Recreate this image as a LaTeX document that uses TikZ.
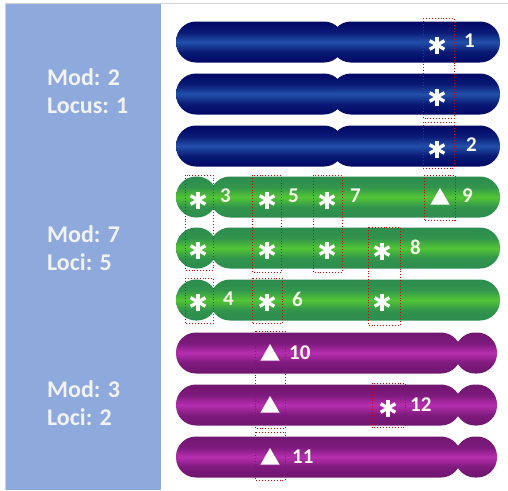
\documentclass[tikz,border=0pt]{standalone}
\usepackage{fontspec}
\setmainfont{Carlito}
\usetikzlibrary{shapes.geometric}
\definecolor{panelblue}{HTML}{8EA9DB}
\definecolor{navyedge}{HTML}{000864}
\definecolor{navymid}{HTML}{2350AA}
\definecolor{greenedge}{HTML}{2C8C50}
\definecolor{greenmid}{HTML}{52C634}
\definecolor{plumedge}{HTML}{701670}
\definecolor{plummid}{HTML}{B62EB0}
\definecolor{labelwhite}{HTML}{F6F6EA}
\pgfdeclareverticalshading{navybar}{100bp}{color(0bp)=(navyedge); color(25bp)=(navyedge); color(38bp)=(navyedge!75!navymid); color(50bp)=(navymid); color(62bp)=(navyedge!75!navymid); color(75bp)=(navyedge); color(100bp)=(navyedge)}
\pgfdeclareverticalshading{greenbar}{100bp}{color(0bp)=(greenedge); color(25bp)=(greenedge); color(38bp)=(greenedge!85!greenmid); color(50bp)=(greenmid); color(62bp)=(greenedge!85!greenmid); color(75bp)=(greenedge); color(100bp)=(greenedge)}
\pgfdeclareverticalshading{plumbar}{100bp}{color(0bp)=(plumedge); color(25bp)=(plumedge); color(38bp)=(plumedge!80!plummid); color(50bp)=(plummid); color(62bp)=(plumedge!80!plummid); color(75bp)=(plumedge); color(100bp)=(plumedge)}

\begin{document}
\begin{tikzpicture}[
    x=1pt, y=-1pt,
    blue arm/.style={shading=navybar,rounded corners=20pt},
    green arm/.style={shading=greenbar,rounded corners=20pt},
    plum arm/.style={shading=plumbar,rounded corners=20pt},
    locus box/.style={draw=red!85!black,dotted,line width=0.9pt},
    ast mark/.style={circle,minimum size=20pt,inner sep=0pt,path picture={
        \foreach \a in {90,30,150}
          \draw[white,line width=3.3pt,shift={(path picture bounding box.center)}] (\a:8.5pt) -- (\a+180:8.5pt);}},
    tri mark/.style={regular polygon,regular polygon sides=3,fill=white,minimum size=22pt,inner sep=0pt},
    locus label/.style={anchor=west,inner sep=0pt,text=labelwhite,font=\bfseries\fontsize{21}{21}\selectfont},
    group text/.style={anchor=base west,inner sep=0pt,text=white!95!black,font=\bfseries\fontsize{24}{24}\selectfont}]

  \useasboundingbox (0,0) rectangle (508,490);

  % side panel
  \fill[panelblue] (6,3.5) rectangle (161,490);
  \draw[gray!35,line width=0.8pt] (5,490) -- (5,3) -- (508,3);

  \node[group text] (mod1) at (47,85) {Mod: 2};
  \node[group text] (loc1) at (47,113) {Locus: 1};
  \node[group text] (mod2) at (47,242) {Mod: 7};
  \node[group text] (loc2) at (47,270) {Loci: 5};
  \node[group text] (mod3) at (47,397) {Mod: 3};
  \node[group text] (loc3) at (47,425) {Loci: 2};

  % chromosomes
  \foreach \y in {42,94,146} {
    \shade[blue arm] (176,\y-20.5) rectangle (344,\y+20.5);
    \shade[blue arm] (331,\y-20.5) rectangle (500,\y+20.5);
  }
  \foreach \y in {197,248,300} {
    \shade[green arm] (176,\y-20.5) rectangle (217,\y+20.5);
    \shade[green arm] (210,\y-20.5) rectangle (500,\y+20.5);
  }
  \foreach \y in {353,405,457} {
    \shade[plum arm] (176,\y-20.5) rectangle (461,\y+20.5);
    \shade[plum arm] (455,\y-20.5) rectangle (497,\y+20.5);
  }

  % loci boxes
  \draw[locus box] (423,18) rectangle (454,118);
  \draw[locus box] (423,122) rectangle (454,168);
  \draw[locus box] (424,175) rectangle (455,220);
  \draw[locus box] (185,175) rectangle (213,270);
  \draw[locus box] (185,278) rectangle (213,323);
  \draw[locus box] (252,175) rectangle (281,272);
  \draw[locus box] (252,278) rectangle (282,323);
  \draw[locus box] (313,175) rectangle (342,272);
  \draw[locus box] (368,227) rectangle (400,325);
  \draw[locus box] (255,331) rectangle (285,428);
  \draw[locus box] (255,432) rectangle (285,480);
  \draw[locus box] (372,383) rectangle (405,427);

  % markers
  \node[ast mark] (b1) at (437,45) {};
  \node[ast mark] (b2) at (437,97) {};
  \node[ast mark] (b3) at (437,149) {};
  \node[ast mark] (g1a) at (198,200) {};
  \node[ast mark] (g1b) at (267,200) {};
  \node[ast mark] (g1c) at (327,200) {};
  \node[tri mark] (g1d) at (440,199) {};
  \node[ast mark] (g2a) at (198,250) {};
  \node[ast mark] (g2b) at (267,250) {};
  \node[ast mark] (g2c) at (327,250) {};
  \node[ast mark] (g2d) at (382,251) {};
  \node[ast mark] (g3a) at (198,302) {};
  \node[ast mark] (g3b) at (267,302) {};
  \node[ast mark] (g3d) at (382,302) {};
  \node[tri mark] (p1) at (270,355) {};
  \node[tri mark] (p2) at (270,407) {};
  \node[ast mark] (p2b) at (388,408) {};
  \node[tri mark] (p3) at (270,459) {};

  % locus numbers
  \node[locus label] (n1) at (464,41) {1};
  \node[locus label] (n2) at (466,145) {2};
  \node[locus label] (n3) at (220,196) {3};
  \node[locus label] (n5) at (288,196) {5};
  \node[locus label] (n7) at (350,196) {7};
  \node[locus label] (n9) at (462,196) {9};
  \node[locus label] (n8) at (410,247) {8};
  \node[locus label] (n4) at (223,299) {4};
  \node[locus label] (n6) at (292,299) {6};
  \node[locus label] (n10) at (289,353) {10};
  \node[locus label] (n12) at (410,405) {12};
  \node[locus label] (n11) at (292,457) {11};
\end{tikzpicture}
\end{document}
